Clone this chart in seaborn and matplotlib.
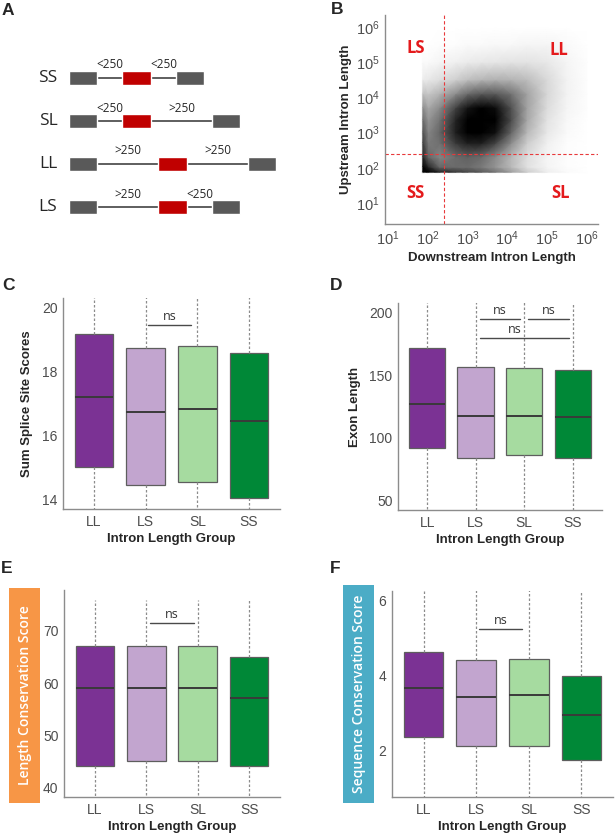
import numpy as np
import pandas as pd
import matplotlib as mpl
import matplotlib.pyplot as plt
import seaborn as sns

W, H = 615, 835

# ---- data ----
groups = ["LL", "LS", "SL", "SS"]
group_colors = ["#7b3294", "#c2a5cf", "#a6dba0", "#008837"]

# panel A diagram
diagram_rows = ["SS", "SL", "LL", "LS"]
upstream_class = ["<250", "<250", ">250", ">250"]
downstream_class = ["<250", ">250", ">250", "<250"]

# panel B: point density of the intron length cloud, read on a log10 grid
# (0 = no points, 1 = solid black)
cloud_x = [1.85, 1.88, 2.02, 2.3, 2.7, 3.0, 3.35, 3.7, 4.1, 4.5, 5.0, 5.5, 6.0]
cloud_y = [1.85, 1.88, 2.02, 2.3, 2.7, 3.0, 3.35, 3.7, 4.1, 4.5, 5.0, 5.5, 6.0]
cloud_density = [
    [0, 0.00, 0.00, 0.00, 0.00, 0.00, 0.00, 0.00, 0.00, 0.00, 0.00, 0.00, 0],
    [0, 1.00, 1.00, 0.85, 0.78, 0.72, 0.65, 0.55, 0.38, 0.20, 0.07, 0.02, 0],
    [0, 1.00, 0.85, 0.60, 0.58, 0.58, 0.52, 0.42, 0.27, 0.12, 0.04, 0.01, 0],
    [0, 0.85, 0.60, 0.48, 0.58, 0.62, 0.58, 0.46, 0.28, 0.13, 0.04, 0.01, 0],
    [0, 0.75, 0.52, 0.56, 0.78, 0.88, 0.88, 0.74, 0.45, 0.20, 0.06, 0.01, 0],
    [0, 0.68, 0.48, 0.60, 0.88, 1.00, 1.00, 0.94, 0.60, 0.28, 0.09, 0.02, 0],
    [0, 0.58, 0.42, 0.55, 0.86, 1.00, 1.00, 1.00, 0.70, 0.34, 0.11, 0.03, 0],
    [0, 0.45, 0.34, 0.46, 0.74, 0.92, 1.00, 0.95, 0.68, 0.36, 0.14, 0.04, 0.01],
    [0, 0.25, 0.22, 0.30, 0.45, 0.58, 0.65, 0.65, 0.55, 0.36, 0.16, 0.05, 0.01],
    [0, 0.08, 0.09, 0.13, 0.19, 0.25, 0.29, 0.31, 0.30, 0.26, 0.15, 0.05, 0.01],
    [0, 0.02, 0.02, 0.04, 0.06, 0.08, 0.09, 0.10, 0.11, 0.11, 0.09, 0.04, 0.01],
    [0, 0.00, 0.00, 0.01, 0.01, 0.02, 0.02, 0.03, 0.03, 0.04, 0.04, 0.02, 0],
    [0, 0.00, 0.00, 0.00, 0.00, 0.00, 0.00, 0.00, 0.00, 0.00, 0.00, 0.00, 0],
]
quadrant_names = ["LS", "LL", "SS", "SL"]
quadrant_x = [1.69, 5.30, 1.69, 5.33]
quadrant_y = [5.39, 5.35, 1.29, 1.29]
cutoff = 250

# panels C-F: whisker low, q1, median, q3, whisker high (whiskers run off the panel)
splice_lo = [11.0, 11.0, 11.0, 11.0]
splice_q1 = [15.0, 14.44, 14.53, 14.03]
splice_med = [17.2, 16.74, 16.82, 16.46]
splice_q3 = [19.16, 18.74, 18.80, 18.57]
splice_hi = [21.5, 21.5, 21.5, 21.5]

exon_lo = [20, 20, 20, 20]
exon_q1 = [92.3, 84.3, 86.7, 84.3]
exon_med = [127.3, 117.4, 117.4, 116.4]
exon_q3 = [171.4, 156.5, 155.4, 154.3]
exon_hi = [240, 240, 240, 240]

lcons_lo = [30, 30, 30, 30]
lcons_q1 = [44.1, 45.1, 45.1, 44.1]
lcons_med = [59.0, 59.0, 59.0, 57.1]
lcons_q3 = [67.0, 67.0, 67.0, 65.0]
lcons_hi = [75.8, 75.8, 75.8, 75.8]

scons_lo = [0.0, 0.0, 0.0, 0.0]
scons_q1 = [2.35, 2.11, 2.11, 1.75]
scons_med = [3.66, 3.41, 3.47, 2.95]
scons_q3 = [4.61, 4.42, 4.43, 3.98]
scons_hi = [7.0, 7.0, 7.0, 7.0]

sns.set_style("white")
plt.rcParams['font.family'] = ['Liberation Sans', 'DejaVu Sans']
plt.rcParams['mathtext.fontset'] = 'custom'
plt.rcParams['mathtext.rm'] = 'Liberation Sans'
plt.rcParams['mathtext.it'] = 'Liberation Sans:italic'
plt.rcParams['mathtext.bf'] = 'Liberation Sans:bold'

TICK_COL = "#4d4d4d"
SPINE_COL = "#8c8c8c"

fig = plt.figure(figsize=(W / 100, H / 100), dpi=100)


def px_rect(left, top, right, bottom):
    return [left / W, 1 - bottom / H, (right - left) / W, (bottom - top) / H]


def style_axes(ax, fs):
    for s in ['top', 'right']:
        ax.spines[s].set_visible(False)
    for s in ['left', 'bottom']:
        ax.spines[s].set_color(SPINE_COL)
        ax.spines[s].set_linewidth(1.0)
    ax.tick_params(axis='both', length=2, width=0.8, color=SPINE_COL,
                   labelsize=fs, labelcolor=TICK_COL, pad=2)


def panel_letter(x, y, s):
    fig.text(x / W, 1 - y / H, s, fontsize=12.5, fontweight='bold',
             ha='left', va='top')


# ---- A: exon / intron diagram ----
ax_a = fig.add_axes(px_rect(0, 0, 300, 260))
ax_a.set_xlim(0, 300)
ax_a.set_ylim(260, 0)
ax_a.axis('off')
short_px, long_px = 25, 61
for i, (name, up, down) in enumerate(zip(diagram_rows, upstream_class, downstream_class)):
    y = 78 + 43 * i
    up_len = short_px if up == "<250" else long_px
    down_len = short_px if down == "<250" else long_px
    x0 = 69
    red_left = x0 + 28 + up_len
    right_left = red_left + 29 + down_len
    ax_a.plot([x0 + 28, right_left], [y, y], color="#333333", lw=1.1, zorder=1)
    ax_a.barh(y, [28, 29, 28], left=[x0, red_left, right_left], height=14,
              color=["#595959", "#c00000", "#595959"], zorder=2)
    ax_a.text(48, y, name, fontsize=12.5, family='Open Sans', ha='center', va='center')
    ax_a.text(x0 + 28 + up_len / 2, y - 13, up, fontsize=8.5, family='Open Sans',
              ha='center', va='center')
    ax_a.text(red_left + 29 + down_len / 2, y - 13, down, fontsize=8.5,
              family='Open Sans', ha='center', va='center')

# ---- B: intron length scatter (drawn as its density) ----
ax_b = fig.add_axes(px_rect(385, 15, 598, 224))
cloud_cmap = mpl.colors.LinearSegmentedColormap.from_list(
    "cloud", ["#ffffff", "#000000"])
ax_b.pcolormesh(cloud_x, cloud_y, np.array(cloud_density), shading='gouraud',
                cmap=cloud_cmap, vmin=0, vmax=1, rasterized=True, zorder=0)
cut_log = np.log10(cutoff)
ax_b.axvline(cut_log, color="#e8393b", lw=0.8, ls=(0, (3, 2)))
ax_b.axhline(cut_log, color="#e8393b", lw=0.8, ls=(0, (3, 2)))
for name, qx, qy in zip(quadrant_names, quadrant_x, quadrant_y):
    ax_b.text(qx, qy, name, color="#e41a1c", fontsize=12, fontweight='bold',
              family='Open Sans', ha='center', va='center')
ax_b.set_xlim(0.925, 6.28)
ax_b.set_ylim(0.40, 6.34)
decades = list(range(1, 7))
ax_b.set_xticks(decades)
ax_b.set_xticklabels([f"$10^{{{k}}}$" for k in decades])
ax_b.set_yticks(decades)
ax_b.set_yticklabels([f"$10^{{{k}}}$" for k in decades])
style_axes(ax_b, 10.5)
ax_b.set_xlabel("Downstream Intron Length", fontsize=9.5, fontweight='bold', labelpad=3)
ax_b.set_ylabel("Upstream Intron Length", fontsize=9.5, fontweight='bold', labelpad=3)


# ---- C-F: box plots ----
def box_panel(rect, lo, q1, med, q3, hi, ylim, yticks, ylabel, brackets):
    ax = fig.add_axes(px_rect(*rect))
    vals = np.column_stack([lo, q1, med, q3, hi]).ravel()
    df = pd.DataFrame({"group": np.repeat(groups, 5), "value": vals})
    sns.boxplot(data=df, x="group", y="value", hue="group", order=groups,
                hue_order=groups, palette=group_colors, saturation=1,
                legend=False, width=0.75, whis=(0, 100), linecolor="#5e5e5e",
                linewidth=0.9, showcaps=False,
                whiskerprops=dict(color="#8c8c8c", linestyle=(0, (2, 1.6)), linewidth=0.9),
                medianprops=dict(color="#3a3a3a", linewidth=1.4),
                ax=ax)
    ax.set_xlim(-0.6, 3.6)
    ax.set_ylim(*ylim)
    ax.set_yticks(yticks)
    style_axes(ax, 10)
    ax.set_xlabel("Intron Length Group", fontsize=9.5, fontweight='bold', labelpad=3)
    ax.set_ylabel(ylabel, fontsize=9.5, fontweight='bold', labelpad=6)
    for x1, x2, yb, xt in brackets:
        ax.plot([x1, x2], [yb, yb], color="#4a4a4a", lw=1.0)
        ax.annotate("ns", (xt, yb), xytext=(0, 1.5), textcoords='offset points',
                    ha='center', va='bottom', fontsize=9, family='Open Sans',
                    color="#333333")
    return ax


box_panel((63, 298, 280, 509), splice_lo, splice_q1, splice_med, splice_q3, splice_hi,
          (13.7, 20.3), [14, 16, 18, 20], "Sum Splice Site Scores",
          [(1.05, 1.87, 19.45, 1.46)])
box_panel((398, 303, 602, 510), exon_lo, exon_q1, exon_med, exon_q3, exon_hi,
          (42.5, 207.5), [50, 100, 150, 200], "Exon Length",
          [(1.08, 1.92, 194.7, 1.5), (2.08, 2.92, 194.7, 2.5), (1.08, 2.92, 179.8, 1.8)])
box_panel((64, 590, 280, 797), lcons_lo, lcons_q1, lcons_med, lcons_q3, lcons_hi,
          (38.2, 77.8), [40, 50, 60, 70], "",
          [(1.08, 1.92, 71.4, 1.5)])
box_panel((392, 591, 613, 797), scons_lo, scons_q1, scons_med, scons_q3, scons_hi,
          (0.75, 6.25), [2, 4, 6], "",
          [(1.05, 1.88, 5.23, 1.46)])


def side_label(rect, color, text):
    ax = fig.add_axes(px_rect(*rect))
    ax.set_facecolor(color)
    ax.set_xticks([])
    ax.set_yticks([])
    for s in ax.spines.values():
        s.set_visible(False)
    ax.text(0.5, 0.5, text, rotation=90, color="white", fontsize=10,
            fontweight='semibold', family='Open Sans', ha='center', va='center',
            transform=ax.transAxes)


side_label((9, 588, 40, 803), "#f79646", "Length Conservation Score")
side_label((343, 585, 374, 803), "#4bacc6", "Sequence Conservation Score")

panel_letter(2, 3, "A")
panel_letter(331, 2, "B")
panel_letter(2, 278, "C")
panel_letter(330, 278, "D")
panel_letter(1, 561, "E")
panel_letter(330, 561, "F")

fig.savefig("out.png", dpi=100)
